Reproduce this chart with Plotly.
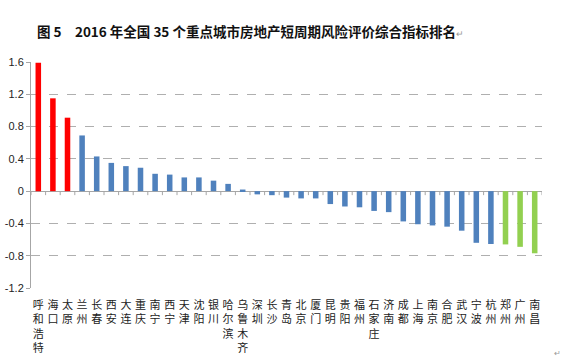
import plotly.graph_objects as go

cities = ["呼和浩特", "海口", "太原", "兰州", "长春", "西安", "大连", "重庆", "南宁", "西宁",
          "天津", "沈阳", "银川", "哈尔滨", "乌鲁木齐", "深圳", "长沙", "青岛", "北京", "厦门",
          "昆明", "贵阳", "福州", "石家庄", "济南", "成都", "上海", "南京", "合肥", "武汉",
          "宁波", "杭州", "郑州", "广州", "南昌"]
values = [1.59, 1.15, 0.91, 0.69, 0.43, 0.35, 0.31, 0.29, 0.215, 0.205,
          0.17, 0.17, 0.13, 0.09, 0.02, -0.04, -0.05, -0.08, -0.09, -0.09,
          -0.16, -0.19, -0.20, -0.245, -0.26, -0.375, -0.41, -0.425, -0.44, -0.49,
          -0.64, -0.655, -0.66, -0.69, -0.77]
groups = ["high"] * 3 + ["mid"] * 29 + ["low"] * 3
group_colors = {"high": "#FF0000", "mid": "#4F81BD", "low": "#92D050"}
ytick_vals = [-1.2, -0.8, -0.4, 0, 0.4, 0.8, 1.2, 1.6]
ytick_text = ["-1.2", "-0.8", "-0.4", "0", "0.4", "0.8", "1.2", "1.6"]
title_text = "图 5　2016 年全国 35 个重点城市房地产短周期风险评价综合指标排名"

colors = [group_colors[g] for g in groups]
ticktext = ["<br>".join(list(c)) for c in cities]

fig = go.Figure()
fig.add_trace(go.Bar(
    x=list(range(len(cities))), y=values,
    marker=dict(color=colors, line=dict(width=0)),
    width=0.38, showlegend=False, hoverinfo="skip"
))

# category tick marks on the zero line
shapes = []
for i in range(len(cities) + 1):
    shapes.append(dict(type="line", xref="x", yref="y", x0=i - 0.5, x1=i - 0.5,
                       ysizemode="pixel", yanchor=0, y0=0, y1=-4,
                       line=dict(color="#A6A6A6", width=1)))
fig.update_layout(shapes=shapes)

fig.update_layout(
    width=573, height=358,
    margin=dict(l=31, r=31, t=62, b=70),
    paper_bgcolor="white", plot_bgcolor="white",
    title=dict(text="<b>" + title_text + "</b><span style='font-size:9px;color:#999999'>↵</span>",
               x=0.437, xanchor="center", y=1 - 32 / 358, yanchor="middle",
               font=dict(family="Noto Sans CJK SC", size=13.5, color="#111111")),
    font=dict(family="Noto Sans CJK SC", size=11, color="#333333"),
)
fig.update_xaxes(
    automargin=False,
    range=[-0.5, len(cities) - 0.5],
    tickmode="array", tickvals=list(range(len(cities))), ticktext=ticktext,
    tickfont=dict(family="Noto Sans CJK SC", size=11, color="#222222"),
    showgrid=False, showline=False, zeroline=False, ticks="", ticklabelstandoff=9,
)
fig.update_yaxes(
    automargin=False,
    range=[-1.2, 1.6], tickmode="array", tickvals=ytick_vals, ticktext=ytick_text,
    tickfont=dict(family="Liberation Sans", size=11, color="#222222"),
    showgrid=True, gridcolor="#AFAFAF", griddash="dash", gridwidth=1,
    zeroline=True, zerolinecolor="#A6A6A6", zerolinewidth=1,
    showline=True, linecolor="#A6A6A6", linewidth=1,
    ticks="outside", ticklen=4, tickcolor="#A6A6A6",
)
fig.add_annotation(text="↵", xref="paper", yref="paper", x=(557 - 31) / 511, y=-(352 - 288) / 226,
                   showarrow=False, font=dict(size=8, color="#999999"), xanchor="center", yanchor="middle")
fig.write_html("out.html", config={"displayModeBar": False},
               post_script="document.body.style.margin='0';document.body.style.overflow='hidden';")
